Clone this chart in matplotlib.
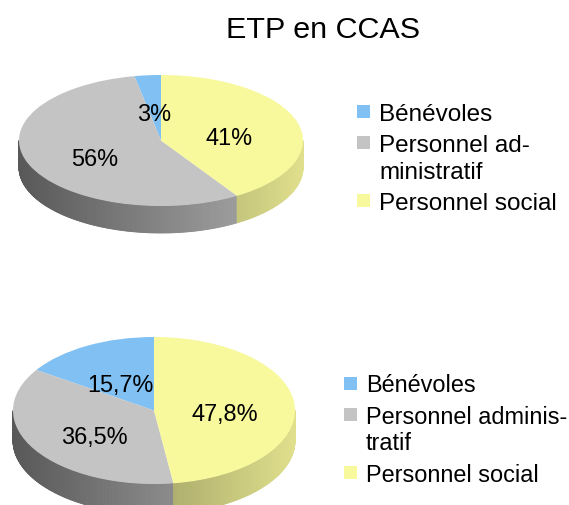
import numpy as np
import matplotlib.pyplot as plt
from matplotlib.colors import to_rgb
from matplotlib.patches import Rectangle

W, H = 569, 506

title = "ETP en CCAS"
colors = ["#80c0f2", "#c4c4c4", "#f8f89c"]

# graphique du haut
values_top = [3, 56, 41]
legend_top = ["Bénévoles", "Personnel ad-\nministratif", "Personnel social"]

# graphique du bas
values_bottom = [15.7, 36.5, 47.8]
legend_bottom = ["Bénévoles", "Personnel adminis-\ntratif", "Personnel social"]

plt.rcParams['font.family'] = ['Liberation Sans', 'DejaVu Sans']


def pt(p):
    # pixels -> points (dpi 100)
    return p * 72 / 100


def pie_3d(fig, values, cx, cy, rx, ry, depth, fmt):
    # un axe plein cadre, 1 unité = rx px en x et ry px en y -> ellipse
    ax = fig.add_axes([0, 0, 1, 1])
    d = depth / ry
    total = sum(values)

    # côté du camembert (partie avant seulement), dégradé gauche -> droite
    a0 = 90.0
    for v, c in zip(values, colors):
        a1 = a0 + 360.0 * v / total
        th = np.linspace(a0, a1, int(abs(a1 - a0)) * 2 + 2)
        base = np.array(to_rgb(c))
        for t1, t2 in zip(th[:-1], th[1:]):
            tm = np.radians((t1 + t2) / 2)
            if np.sin(tm) >= 0:
                continue
            r1, r2 = np.radians(t1), np.radians(t2)
            xs = [np.cos(r1), np.cos(r2), np.cos(r2), np.cos(r1)]
            ys = [np.sin(r1), np.sin(r2), np.sin(r2) - d, np.sin(r1) - d]
            f = 0.45 + 0.45 * (1 + np.cos(tm)) / 2
            ax.fill(xs, ys, color=np.clip(base * f, 0, 1), lw=0.6)
        a0 = a1

    # face du dessus
    wedges, _, autotexts = ax.pie(values, colors=colors, startangle=90,
                                  radius=1, autopct=fmt, pctdistance=0.5,
                                  wedgeprops=dict(linewidth=0),
                                  textprops=dict(fontsize=pt(23.5)))
    for t in autotexts:
        x, y = t.get_position()
        t.set_position((x, y - 6 / ry))

    ax.set_aspect('auto')
    ax.set_xlim(-cx / rx, (W - cx) / rx)
    ax.set_ylim((cy - H) / ry, cy / ry)
    ax.axis('off')
    return ax


def legend(fig, labels, x_sq, x_txt, y0, size, line_h=26.5, gap=5):
    y = y0
    for lab, c in zip(labels, colors):
        fig.add_artist(Rectangle((x_sq / W, 1 - (y + 6.5) / H), 13 / W, 13 / H,
                                 transform=fig.transFigure, facecolor=c,
                                 edgecolor='none'))
        lines = lab.split("\n")
        for line in lines:
            fig.text(x_txt / W, 1 - (y + 0.358 * size) / H, line, ha='left',
                     va='baseline', fontsize=pt(size))
            y += line_h
        y += gap


fig = plt.figure(figsize=(W / 100, H / 100), dpi=100)
fig.patch.set_facecolor('white')

fig.text(323.5 / W, 1 - 37.5 / H, title, ha='center', va='baseline',
         fontsize=pt(30.5))

pie_3d(fig, values_top, 161, 141.5, 142, 65.5, 27,
       lambda p: f"{p:.0f}%")
legend(fig, legend_top, 357, 379, 112, 24.2)

pie_3d(fig, values_bottom, 154, 411.5, 141, 73.5, 30,
       lambda p: f"{p:.1f}%".replace(".", ","))
legend(fig, legend_bottom, 344, 366, 384, 23.5)

fig.savefig("out.png", dpi=100)
